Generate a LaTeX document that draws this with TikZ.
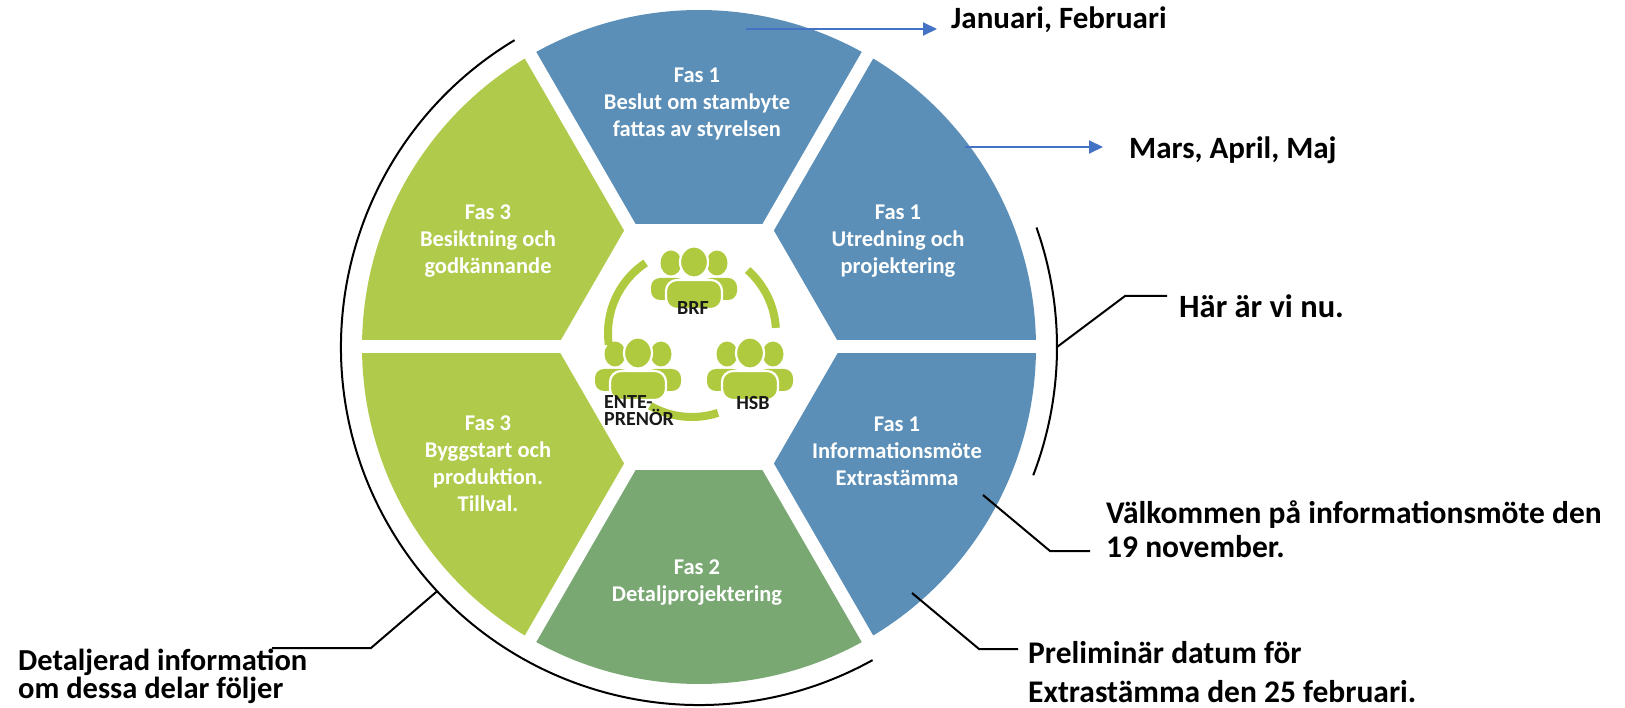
\documentclass[tikz,border=0pt]{standalone}
\usepackage{fontspec}
\setmainfont{Carlito}
\usetikzlibrary{arrows.meta}
\definecolor{segblue}{HTML}{5B8FB7}
\definecolor{seggreen}{HTML}{79A873}
\definecolor{seglime}{HTML}{B0CB4B}
\definecolor{iconlime}{HTML}{AFCA3E}
\definecolor{arrowblue}{HTML}{4472C4}
\begin{document}
\begin{tikzpicture}[x=1pt,y=-1pt,
  segtext/.style={text=white, font=\bfseries\fontsize{22.5}{27}\selectfont, align=center, inner sep=0pt},
  callout/.style={text=black, inner sep=0pt, align=left},
  iconlbl/.style={text=black!90, inner sep=0pt, font=\bfseries\fontsize{20}{17}\selectfont},
  connector/.style={draw=black, line width=2pt},
  outerarc/.style={draw=black, line width=2pt},
  bluearrow/.style={draw=arrowblue, line width=2pt, -{Triangle[length=14pt,width=13pt]}},
  ringarc/.style={draw=iconlime, line width=8pt},
  gapline/.style={draw=white, line width=13pt},
  pics/people/.style={code={
    \fill[iconlime] (-23,0) ellipse[x radius=10.5, y radius=12.5];
    \fill[iconlime] (23,0) ellipse[x radius=10.5, y radius=12.5];
    \fill[iconlime, rounded corners=9pt] (-43,37) -- (-43,15) -- (-8,15) -- (-8,37) -- cycle;
    \fill[iconlime, rounded corners=9pt] (43,37) -- (43,15) -- (8,15) -- (8,37) -- cycle;
    \filldraw[fill=iconlime, draw=white, line width=2.2pt] (0,-1) ellipse[x radius=14, y radius=15.5];
    \filldraw[fill=iconlime, draw=white, line width=2.2pt, rounded corners=11pt] (-28,46) -- (-28,17) -- (28,17) -- (28,46) -- cycle;
  }}
]
\fill[white] (0,0) rectangle (1625,708);
\path[use as bounding box] (0,0) rectangle (1625,708);
\coordinate (C) at (699,347);
% ring segments
\fill[segblue] (C) -- ++(-60:337) arc[start angle=-60,end angle=-120,radius=337] -- cycle;
\fill[segblue] (C) -- ++(0:337) arc[start angle=0,end angle=-60,radius=337] -- cycle;
\fill[segblue] (C) -- ++(60:337) arc[start angle=60,end angle=0,radius=337] -- cycle;
\fill[seggreen] (C) -- ++(120:337) arc[start angle=120,end angle=60,radius=337] -- cycle;
\fill[seglime] (C) -- ++(180:337) arc[start angle=180,end angle=120,radius=337] -- cycle;
\fill[seglime] (C) -- ++(240:337) arc[start angle=240,end angle=180,radius=337] -- cycle;
% inner hexagon
\fill[white] ([shift={(0:142)}]C) -- ([shift={(60:142)}]C) -- ([shift={(120:142)}]C) -- ([shift={(180:142)}]C) -- ([shift={(240:142)}]C) -- ([shift={(300:142)}]C) -- cycle;
% gaps
\foreach \a in {0,60,...,300} \draw[gapline] (C) -- ++(\a:341);
% centre ring
\coordinate (RC) at (692,333);
\draw[ringarc] (RC) ++(-123.5:84) arc[start angle=-123.5,end angle=-188,radius=84];
\draw[ringarc] (RC) ++(-3.5:84) arc[start angle=-3.5,end angle=-48.5,radius=84];
\draw[ringarc] (RC) ++(-240:84) arc[start angle=-240,end angle=-288,radius=84];
% icons
\pic (brf) at (694,263) {people};
\pic (ent) at (638,354) {people};
\pic (hsb) at (750,354) {people};
\node[iconlbl] (brfl) at (693,308) {BRF};
\node[iconlbl, align=left, anchor=west] (entl) at (604,411) {ENTE-\\PRENÖR};
\node[iconlbl] (hsbl) at (753,403) {HSB};
% segment texts
\node[segtext] (s1) at (697,104) {Fas 1\\Beslut om stambyte\\fattas av styrelsen};
\node[segtext] (s2) at (898,241) {Fas 1\\Utredning och\\projektering};
\node[segtext] (s3) at (897,451) {Fas 1\\Informationsmöte\\Extrastämma};
\node[segtext] (s4) at (697,583) {Fas 2\\Detaljprojektering};
\node[segtext] (s5) at (488,464) {Fas 3\\Byggstart och\\produktion.\\Tillval.};
\node[segtext] (s6) at (488,241) {Fas 3\\Besiktning och\\godkännande};
% outer arcs
\draw[outerarc] (C) ++(-121:358) arc[start angle=-121,end angle=-299,radius=358];
\draw[outerarc] (C) ++(-19.5:358) arc[start angle=-19.5,end angle=21,radius=358];
% callout texts (base = baseline of last line)
\node[callout, anchor=base west, font=\bfseries\fontsize{31}{38}\selectfont] (jan) at (951,29) {Januari, Februari};
\node[callout, anchor=base west, font=\bfseries\fontsize{31}{38}\selectfont] (mars) at (1129,159) {Mars, April, Maj};
\node[callout, anchor=base west, font=\bfseries\fontsize{32.5}{39}\selectfont] (har) at (1179,318) {Här är vi nu.};
\node[callout, anchor=base west, font=\bfseries\fontsize{31.5}{34}\selectfont] (valk) at (1106,557) {Välkommen på informationsmöte den\\19 november.};
\node[callout, anchor=base west, font=\bfseries\fontsize{31.5}{39}\selectfont] (prel) at (1028,702) {Preliminär datum för\\Extrastämma den 25 februari.};
\node[callout, anchor=base west, font=\bfseries\fontsize{30.5}{27.5}\selectfont] (detal) at (18,698) {Detaljerad information\\om dessa delar följer};
% arrows
\coordinate (janS) at (746,29);
\coordinate (marS) at (965,147);
\coordinate (marT) at (1103,147);
\draw[bluearrow] (janS) -- ([xshift=-14pt]jan.base west);
\draw[bluearrow] (marS) -- (marT);
% connectors
\coordinate (hereA) at ([shift={(0:358)}]C);
\coordinate (hereB) at (1125,296);
\coordinate (hereE) at (1167,296);
\draw[connector] (hereA) -- (hereB) -- (hereE);
\coordinate (infoA) at (983,495);
\coordinate (infoB) at (1050,551);
\coordinate (infoE) at (1090,551);
\draw[connector] (infoA) -- (infoB) -- (infoE);
\coordinate (prelA) at (912,593);
\coordinate (prelB) at (979,649);
\coordinate (prelE) at (1018,649);
\draw[connector] (prelA) -- (prelB) -- (prelE);
\coordinate (detA) at ([shift={(137:358)}]C);
\coordinate (detB) at (371,648);
\coordinate (detE) at (272,648);
\draw[connector] (detA) -- (detB) -- (detE);
\end{tikzpicture}
\end{document}
